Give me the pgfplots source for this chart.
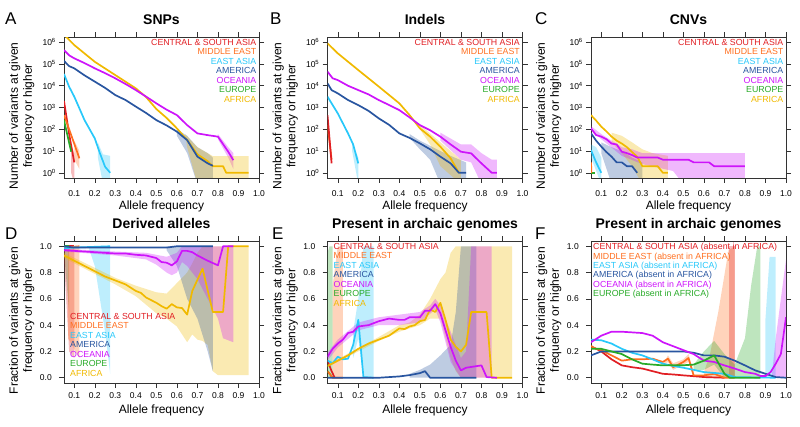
\documentclass[border=0pt]{standalone}
\usepackage{pgfplots}
\pgfplotsset{compat=1.18}
\usepackage{fontspec}
\setmainfont{Liberation Sans}

\definecolor{csa}{RGB}{225,30,35}
\definecolor{me}{RGB}{255,110,30}
\definecolor{ea}{RGB}{40,200,250}
\definecolor{am}{RGB}{40,85,160}
\definecolor{oc}{RGB}{205,20,250}
\definecolor{eu}{RGB}{40,170,40}
\definecolor{af}{RGB}{240,185,0}

\tikzset{legtext/.style={inner sep=0pt, font=\fontsize{8.8}{9.45}\selectfont}}

\pgfplotsset{
  panel/.style={
    scale only axis, width=195pt, height=141pt,
    xmin=0.05, xmax=1.0,
    xtick={0.1,0.2,0.3,0.4,0.5,0.6,0.7,0.8,0.9,1.0},
    xticklabels={0.1,0.2,0.3,0.4,0.5,0.6,0.7,0.8,0.9,1.0},
    tick align=outside, major tick length=5pt,
    tick label style={font=\fontsize{8.5}{10}\selectfont},
    tick style={black!80, line width=0.5pt},
    axis line style={black!80, line width=0.6pt},
    xlabel={Allele frequency},
    xlabel style={anchor=base, font=\fontsize{12}{14}\selectfont},
    ylabel style={at={(axis description cs:-0.216,0.44)}, anchor=center, align=center, font=\fontsize{12}{14}\selectfont},
    title style={at={(axis description cs:0.5,1.045)}, anchor=base, font=\fontsize{14}{16}\selectfont\bfseries},
  },
  logpanel/.style={panel, height=141pt,
    ymin=0.575, ymax=1.74e6,
    ytick={1,10,100,1000,10000,100000,1000000},
    yticklabels={10\textsuperscript{0},10\textsuperscript{1},10\textsuperscript{2},10\textsuperscript{3},10\textsuperscript{4},10\textsuperscript{5},10\textsuperscript{6}},
    yminorticks=false,
    yticklabel style={anchor=east, inner sep=0pt, xshift=-3pt},
    xticklabel style={anchor=base, yshift=-14pt},
    xlabel style={at={(axis description cs:0.5,-0.22)}},
    ylabel={Number of variants at given\\frequency or higher},
  },
  fracpanel/.style={panel, height=142pt,
    ymin=-0.04, ymax=1.04,
    ytick={0,0.2,0.4,0.6,0.8,1.0},
    yticklabels={0.0,0.2,0.4,0.6,0.8,1.0},
    yticklabel style={anchor=east, inner sep=0pt, xshift=-7pt},
    xticklabel style={anchor=base, yshift=-10pt},
    xlabel style={at={(axis description cs:0.5,-0.218)}},
    ylabel={Fraction of variants at given\\frequency or higher},
  },
  band/.style={draw=none, fill opacity=0.3},
  ln/.style={line width=1.7pt, mark=none, line join=round},
}

\begin{document}
\begin{tikzpicture}

% ---------------- A: SNPs
\begin{axis}[ymode=log, logpanel, at={(64pt,248pt)}, anchor=south west, title={SNPs}]
\addplot[band, fill=ea] coordinates {(0.215,25) (0.24,7) (0.275,6) (0.275,0.3) (0.24,0.3) (0.215,5)} -- cycle;
\addplot[band, fill=csa] coordinates {(0.085,20) (0.1,8) (0.1,0.3) (0.085,1)} -- cycle;
\addplot[band, fill=me] coordinates {(0.1,30) (0.125,10) (0.125,1.5) (0.1,4)} -- cycle;
\addplot[band, fill=am] coordinates {(0.6,100) (0.65,50) (0.7,15) (0.75,8) (0.775,5) (0.775,0.3) (0.7,0.3) (0.65,8) (0.6,50)} -- cycle;
\addplot[band, fill=oc] coordinates {(0.8,60) (0.85,15) (0.875,8) (0.875,1.5) (0.85,5) (0.8,35)} -- cycle;
\addplot[band, fill=af] coordinates {(0.64,60) (0.7,15) (0.75,8) (0.775,5.8) (0.95,5.8) (0.95,0.3) (0.7,0.3) (0.65,15)} -- cycle;
\addplot[ln, af] coordinates {(0.05,2240000) (0.1,741000) (0.2,126000) (0.3,30900) (0.4,7590) (0.45,3000) (0.5,850) (0.55,330) (0.6,110) (0.65,32) (0.7,7) (0.75,3.4) (0.775,2) (0.825,2) (0.84,1) (0.95,1)};
\addplot[ln, oc] coordinates {(0.05,436000) (0.075,250000) (0.1,182000) (0.15,110000) (0.2,63100) (0.25,38000) (0.3,21900) (0.35,12000) (0.4,6310) (0.45,3160) (0.5,1550) (0.55,794) (0.6,447) (0.65,155) (0.7,64.6) (0.75,53.7) (0.8,45.7) (0.85,9.3) (0.875,3.8)};
\addplot[ln, am] coordinates {(0.05,138000) (0.075,80000) (0.1,63100) (0.15,30000) (0.2,15500) (0.25,8000) (0.3,3720) (0.35,2200) (0.4,1100) (0.45,560) (0.5,263) (0.55,150) (0.6,77.6) (0.65,31.6) (0.7,5.5) (0.75,2.7) (0.775,2.1)};
\addplot[ln, ea] coordinates {(0.05,34700) (0.075,9000) (0.1,3160) (0.15,263) (0.2,38) (0.225,7.9) (0.25,1.9) (0.275,1)};
\addplot[ln, csa] coordinates {(0.05,2000) (0.075,60) (0.1,3)};
\addplot[ln, me] coordinates {(0.05,450) (0.09,40) (0.125,4.6)};
\addplot[ln, eu] coordinates {(0.05,260) (0.085,9.3)};
\node[legtext, anchor=north east, align=right, xshift=-2.5pt, yshift=-2pt] at (rel axis cs:1,1)
  {\color{csa}CENTRAL \& SOUTH ASIA\\\color{me}MIDDLE EAST\\\color{ea}EAST ASIA\\\color{am}AMERICA\\\color{oc}OCEANIA\\\color{eu}EUROPE\\\color{af}AFRICA};
\end{axis}

% ---------------- B: Indels
\begin{axis}[ymode=log, logpanel, at={(327.5pt,248pt)}, anchor=south west, title={Indels}]
\addplot[band, fill=ea] coordinates {(0.17,25) (0.2,5) (0.2,0.3) (0.17,10)} -- cycle;
\addplot[band, fill=am] coordinates {(0.45,60) (0.5,30) (0.6,10) (0.65,6) (0.725,3) (0.725,0.3) (0.6,0.3) (0.55,4) (0.5,12) (0.45,40)} -- cycle;
\addplot[band, fill=af] coordinates {(0.5,160) (0.6,25) (0.65,10) (0.7,4) (0.7,0.3) (0.6,2) (0.55,20) (0.5,100)} -- cycle;
\addplot[band, fill=oc] coordinates {(0.6,70) (0.7,20) (0.75,20) (0.8,8) (0.85,4) (0.875,4) (0.875,0.3) (0.8,0.3) (0.75,3) (0.7,4) (0.6,30)} -- cycle;
\addplot[ln, af] coordinates {(0.05,891000) (0.1,309000) (0.2,52500) (0.3,9120) (0.4,1550) (0.45,447) (0.5,110) (0.55,45.7) (0.6,15.8) (0.65,4.6) (0.69,1)};
\addplot[ln, oc] coordinates {(0.05,44700) (0.075,22000) (0.1,18200) (0.15,10000) (0.2,6310) (0.25,4000) (0.3,2190) (0.35,1300) (0.4,759) (0.45,350) (0.5,155) (0.55,90) (0.6,45.7) (0.65,20) (0.7,9.3) (0.75,7.8) (0.8,2.7) (0.85,1) (0.875,1)};
\addplot[ln, am] coordinates {(0.05,12900) (0.07,6300) (0.1,4470) (0.15,2200) (0.2,1290) (0.25,700) (0.3,316) (0.35,160) (0.4,64.6) (0.45,40) (0.5,22.4) (0.55,12) (0.6,5.5) (0.65,2.7) (0.69,1) (0.725,1)};
\addplot[ln, ea] coordinates {(0.05,3160) (0.1,537) (0.15,64.6) (0.175,20) (0.2,2.7)};
\addplot[ln, me] coordinates {(0.05,160) (0.07,4)};
\addplot[ln, csa] coordinates {(0.05,447) (0.07,2.7)};
\node[legtext, anchor=north east, align=right, xshift=-2.5pt, yshift=-2pt] at (rel axis cs:1,1)
  {\color{csa}CENTRAL \& SOUTH ASIA\\\color{me}MIDDLE EAST\\\color{ea}EAST ASIA\\\color{am}AMERICA\\\color{oc}OCEANIA\\\color{eu}EUROPE\\\color{af}AFRICA};
\end{axis}

% ---------------- C: CNVs
\begin{axis}[ymode=log, logpanel, at={(591pt,248pt)}, anchor=south west, title={CNVs}]
\addplot[band, fill=ea] coordinates {(0.05,20) (0.075,15) (0.1,5) (0.1,0.3) (0.05,5)} -- cycle;
\addplot[band, fill=am] coordinates {(0.1,25) (0.15,15) (0.2,10) (0.25,5) (0.3,3) (0.3,0.3) (0.15,0.3) (0.1,8)} -- cycle;
\addplot[band, fill=af] coordinates {(0.15,70) (0.2,50) (0.25,25) (0.3,12) (0.35,8) (0.425,6) (0.425,0.3) (0.3,0.3) (0.25,2) (0.2,8) (0.15,25)} -- cycle;
\addplot[band, fill=oc] coordinates {(0.05,140) (0.1,60) (0.2,15) (0.25,12) (0.3,8) (0.8,8) (0.8,0.3) (0.5,0.3) (0.45,1.2) (0.3,2.5) (0.2,6) (0.1,35) (0.05,90)} -- cycle;
\addplot[ln, af] coordinates {(0.05,447) (0.075,250) (0.1,132) (0.125,80) (0.15,46) (0.175,30) (0.2,22) (0.225,15) (0.25,9) (0.275,5.5) (0.3,2) (0.375,2) (0.4,1) (0.425,1)};
\addplot[ln, oc] coordinates {(0.05,110) (0.075,54) (0.1,46) (0.125,35) (0.15,22) (0.175,20) (0.2,9.3) (0.225,8) (0.25,6.5) (0.275,5) (0.375,5) (0.4,4) (0.525,4) (0.55,3) (0.625,3) (0.65,2) (0.8,2)};
\addplot[ln, am] coordinates {(0.05,65) (0.075,30) (0.1,16) (0.125,9) (0.15,5.5) (0.175,3) (0.2,3) (0.225,2) (0.25,2) (0.275,1)};
\addplot[ln, ea] coordinates {(0.05,11) (0.075,3) (0.1,1)};
\addplot[ln, eu] coordinates {(0.05,1) (0.07,1)};
\addplot[ln, me] coordinates {(0.05,3) (0.052,1)};
\node[legtext, anchor=north east, align=right, xshift=-2.5pt, yshift=-2pt] at (rel axis cs:1,1)
  {\color{csa}CENTRAL \& SOUTH ASIA\\\color{me}MIDDLE EAST\\\color{ea}EAST ASIA\\\color{am}AMERICA\\\color{oc}OCEANIA\\\color{eu}EUROPE\\\color{af}AFRICA};
\end{axis}

% ---------------- D: Derived alleles
\begin{axis}[fracpanel, at={(64pt,43pt)}, anchor=south west, title={Derived alleles}]
\addplot[band, fill=eu] coordinates {(0.05,1.0) (0.075,1.0) (0.075,0.5) (0.05,0.95)} -- cycle;
\addplot[band, fill=csa] coordinates {(0.05,1.0) (0.1,1.0) (0.1,0.15) (0.075,0.2) (0.05,0.9)} -- cycle;
\addplot[band, fill=me] coordinates {(0.07,1.0) (0.125,1.0) (0.125,0.15) (0.07,0.3)} -- cycle;
\addplot[band, fill=ea] coordinates {(0.17,1.0) (0.275,1.0) (0.275,0.03) (0.25,0.35) (0.2,0.85) (0.17,0.99)} -- cycle;
\addplot[band, fill=af] coordinates {(0.05,0.95) (0.3,0.76) (0.4,0.7) (0.5,0.65) (0.55,0.64) (0.6,0.72) (0.65,0.8) (0.675,0.87) (0.7,0.95) (0.725,1.0) (0.95,1.0) (0.95,0.02) (0.8,0.02) (0.775,0.05) (0.75,0.25) (0.725,0.28) (0.7,0.29) (0.675,0.33) (0.65,0.27) (0.6,0.39) (0.55,0.45) (0.5,0.49) (0.4,0.62) (0.3,0.71) (0.05,0.91)} -- cycle;
\addplot[band, fill=am] coordinates {(0.55,1.0) (0.775,1.0) (0.775,0.05) (0.75,0.2) (0.7,0.45) (0.65,0.6) (0.6,0.85) (0.55,0.97)} -- cycle;
\addplot[band, fill=oc] coordinates {(0.05,0.98) (0.3,0.96) (0.45,0.95) (0.55,0.92) (0.6,0.95) (0.625,1.0) (0.875,1.0) (0.875,0.27) (0.825,0.3) (0.8,0.45) (0.75,0.6) (0.7,0.75) (0.65,0.85) (0.625,0.88) (0.6,0.8) (0.575,0.78) (0.55,0.8) (0.5,0.86) (0.45,0.9) (0.3,0.93) (0.05,0.96)} -- cycle;
\addplot[ln, csa] coordinates {(0.05,1.0) (0.1,1.0)};
\addplot[ln, me] coordinates {(0.05,0.99) (0.125,1.0)};
\addplot[ln, eu] coordinates {(0.05,1.0) (0.075,1.0)};
\addplot[ln, ea] coordinates {(0.05,0.985) (0.1,0.99) (0.275,1.0)};
\addplot[ln, af] coordinates {(0.05,0.93) (0.1,0.89) (0.15,0.85) (0.2,0.81) (0.25,0.77) (0.3,0.74) (0.35,0.71) (0.4,0.66) (0.425,0.645) (0.45,0.61) (0.5,0.57) (0.525,0.545) (0.55,0.525) (0.575,0.56) (0.6,0.535) (0.625,0.53) (0.65,0.48) (0.675,0.66) (0.725,0.83) (0.775,0.5) (0.825,0.5) (0.85,1.0) (0.95,1.0)};
\addplot[ln, oc] coordinates {(0.05,0.97) (0.1,0.965) (0.2,0.955) (0.3,0.945) (0.35,0.945) (0.4,0.935) (0.45,0.93) (0.5,0.91) (0.525,0.88) (0.55,0.875) (0.575,0.855) (0.6,0.885) (0.625,0.965) (0.65,0.965) (0.675,0.955) (0.7,0.93) (0.75,0.89) (0.8,0.855) (0.825,1.0) (0.875,1.0)};
\addplot[ln, am] coordinates {(0.05,1.0) (0.1,0.99) (0.3,0.99) (0.55,0.99) (0.6,1.0) (0.775,1.0)};
\node[legtext, anchor=north west, align=left, xshift=6pt, yshift=-72pt] at (rel axis cs:0,1)
  {\color{csa}CENTRAL \& SOUTH ASIA\\\color{me}MIDDLE EAST\\\color{ea}EAST ASIA\\\color{am}AMERICA\\\color{oc}OCEANIA\\\color{eu}EUROPE\\\color{af}AFRICA};
\end{axis}

% ---------------- E: Present in archaic genomes
\begin{axis}[fracpanel, at={(327.5pt,43pt)}, anchor=south west, title={Present in archaic genomes}]
\addplot[band, fill=eu] coordinates {(0.05,0.0) (0.05,0.95) (0.06,1.0) (0.075,1.0) (0.075,0.0)} -- cycle;
\addplot[band, fill=me] coordinates {(0.075,0.0) (0.075,0.7) (0.1,1.0) (0.125,1.0) (0.125,0.0)} -- cycle;
\addplot[band, fill=ea] coordinates {(0.175,0.35) (0.2,0.6) (0.225,1.0) (0.275,1.0) (0.275,0.0) (0.225,0.0) (0.2,0.3) (0.175,0.15)} -- cycle;
\addplot[band, fill=af] coordinates {(0.05,0.1) (0.3,0.31) (0.4,0.4) (0.45,0.42) (0.5,0.48) (0.55,0.6) (0.6,0.75) (0.625,0.8) (0.65,0.95) (0.675,1.0) (0.95,1.0) (0.95,0.0) (0.7,0.0) (0.675,0.05) (0.65,0.15) (0.625,0.3) (0.6,0.45) (0.55,0.45) (0.5,0.4) (0.4,0.35) (0.3,0.28) (0.05,0.08)} -- cycle;
\addplot[band, fill=am] coordinates {(0.45,0.03) (0.5,0.06) (0.55,0.1) (0.6,0.17) (0.65,0.25) (0.675,0.5) (0.7,1.0) (0.775,1.0) (0.775,0.0) (0.45,0.0)} -- cycle;
\addplot[band, fill=oc] coordinates {(0.05,0.19) (0.1,0.29) (0.2,0.42) (0.3,0.46) (0.4,0.48) (0.5,0.5) (0.55,0.55) (0.575,0.6) (0.6,0.55) (0.65,0.35) (0.7,0.15) (0.725,0.2) (0.75,1.0) (0.85,1.0) (0.85,0.0) (0.7,0.0) (0.65,0.12) (0.6,0.42) (0.575,0.52) (0.5,0.42) (0.4,0.4) (0.3,0.4) (0.2,0.36) (0.1,0.23) (0.05,0.13)} -- cycle;
\addplot[ln, eu] coordinates {(0.05,0.05) (0.075,0.0)};
\addplot[ln, me] coordinates {(0.05,0.05) (0.075,0.0) (0.125,0.0)};
\addplot[ln, csa] coordinates {(0.05,0.13) (0.06,0.09) (0.07,0.05) (0.085,0.0)};
\addplot[ln, ea] coordinates {(0.05,0.13) (0.075,0.11) (0.1,0.16) (0.125,0.14) (0.15,0.145) (0.175,0.25) (0.2,0.44) (0.225,0.005) (0.275,0.0)};
\addplot[ln, af] coordinates {(0.05,0.09) (0.1,0.13) (0.15,0.17) (0.2,0.22) (0.25,0.26) (0.3,0.29) (0.35,0.32) (0.4,0.375) (0.425,0.37) (0.45,0.39) (0.475,0.4) (0.5,0.43) (0.525,0.44) (0.55,0.52) (0.575,0.5) (0.6,0.57) (0.625,0.44) (0.65,0.29) (0.675,0.235) (0.7,0.2) (0.725,0.25) (0.75,0.5) (0.825,0.5) (0.85,0.0) (0.95,0.0)};
\addplot[ln, oc] coordinates {(0.05,0.16) (0.075,0.22) (0.1,0.26) (0.125,0.29) (0.15,0.34) (0.175,0.35) (0.2,0.39) (0.25,0.4) (0.3,0.43) (0.35,0.45) (0.4,0.44) (0.425,0.44) (0.45,0.46) (0.5,0.46) (0.525,0.51) (0.55,0.51) (0.575,0.56) (0.6,0.49) (0.625,0.36) (0.65,0.235) (0.675,0.13) (0.7,0.056) (0.725,0.076) (0.8,0.094) (0.825,0.005) (0.875,0.0)};
\addplot[ln, am] coordinates {(0.05,0.0) (0.3,0.0) (0.4,0.01) (0.45,0.02) (0.5,0.035) (0.525,0.05) (0.55,0.0) (0.775,0.0)};
\node[legtext, anchor=north west, align=left, xshift=6pt, yshift=-2pt] at (rel axis cs:0,1)
  {\color{csa}CENTRAL \& SOUTH ASIA\\\color{me}MIDDLE EAST\\\color{ea}EAST ASIA\\\color{am}AMERICA\\\color{oc}OCEANIA\\\color{eu}EUROPE\\\color{af}AFRICA};
\end{axis}

% ---------------- F: Present in archaic genomes (absent in Africa)
\begin{axis}[fracpanel, at={(591pt,43pt)}, anchor=south west, title={Present in archaic genomes}]
\addplot[band, fill=me] coordinates {(0.6,0.0) (0.6,0.04) (0.63,0.18) (0.67,0.5) (0.72,0.97) (0.75,1.0) (0.75,0.0)} -- cycle;
\addplot[band, fill=csa] coordinates {(0.72,0.0) (0.72,1.0) (0.75,1.0) (0.75,0.0)} -- cycle;
\addplot[band, fill=eu] coordinates {(0.55,0.05) (0.55,0.1) (0.6,0.2) (0.65,0.28) (0.7,0.18) (0.75,0.1) (0.8,0.3) (0.83,0.7) (0.86,1.0) (0.875,1.0) (0.875,0.0) (0.7,0.0) (0.65,0.1) (0.6,0.06)} -- cycle;
\addplot[band, fill=ea] coordinates {(0.9,0.0) (0.9,0.45) (0.92,0.92) (0.95,0.92) (0.95,0.0)} -- cycle;
\addplot[band, fill=oc] coordinates {(0.93,0.0) (0.95,0.3) (0.975,0.6) (1.0,0.9) (1.0,0.0)} -- cycle;
\addplot[band, fill=me] coordinates {(0.4,0.1) (0.425,0.17) (0.45,0.11) (0.5,0.14) (0.525,0.18) (0.55,0.04) (0.55,0.0) (0.525,0.12) (0.5,0.1) (0.45,0.06) (0.425,0.12) (0.4,0.09)} -- cycle;
\addplot[ln, csa] coordinates {(0.05,0.24) (0.1,0.2) (0.15,0.14) (0.2,0.094) (0.25,0.08) (0.3,0.07) (0.35,0.05) (0.4,0.03) (0.45,0.025) (0.5,0.018) (0.55,0.012) (0.6,0.005) (0.7,0.0)};
\addplot[ln, me] coordinates {(0.05,0.24) (0.075,0.22) (0.1,0.21) (0.15,0.17) (0.2,0.13) (0.25,0.14) (0.3,0.14) (0.35,0.145) (0.4,0.12) (0.425,0.145) (0.45,0.08) (0.5,0.12) (0.525,0.15) (0.55,0.018) (0.6,0.018) (0.65,0.03) (0.7,0.0) (0.75,0.0)};
\addplot[ln, ea] coordinates {(0.05,0.29) (0.1,0.285) (0.15,0.26) (0.2,0.22) (0.25,0.19) (0.3,0.17) (0.35,0.14) (0.4,0.107) (0.45,0.09) (0.5,0.076) (0.55,0.06) (0.6,0.043) (0.7,0.03) (0.75,0.005) (0.95,0.0)};
\addplot[ln, am] coordinates {(0.05,0.17) (0.1,0.2) (0.2,0.2) (0.3,0.2) (0.4,0.2) (0.5,0.2) (0.55,0.19) (0.6,0.17) (0.65,0.17) (0.7,0.16) (0.75,0.13) (0.8,0.094) (0.85,0.056) (0.9,0.03) (0.95,0.005) (1.0,0.0)};
\addplot[ln, oc] coordinates {(0.05,0.27) (0.1,0.32) (0.15,0.35) (0.2,0.35) (0.25,0.345) (0.3,0.34) (0.35,0.32) (0.4,0.27) (0.45,0.24) (0.5,0.21) (0.55,0.18) (0.6,0.13) (0.65,0.12) (0.7,0.094) (0.75,0.07) (0.8,0.043) (0.85,0.03) (0.875,0.013) (0.9,0.013) (0.925,0.043) (0.95,0.107) (0.975,0.18) (1.0,0.46)};
\addplot[ln, eu] coordinates {(0.05,0.22) (0.1,0.22) (0.15,0.2) (0.2,0.18) (0.25,0.14) (0.3,0.107) (0.35,0.1) (0.4,0.094) (0.5,0.095) (0.55,0.1) (0.6,0.13) (0.65,0.17) (0.7,0.03) (0.725,0.0) (0.875,0.0)};
\node[legtext, anchor=north west, align=left, xshift=2pt, yshift=-2pt] at (rel axis cs:0,1)
  {\color{csa}CENTRAL \& SOUTH ASIA (absent in AFRICA)\\\color{me}MIDDLE EAST (absent in AFRICA)\\\color{ea}EAST ASIA (absent in AFRICA)\\\color{am}AMERICA (absent in AFRICA)\\\color{oc}OCEANIA (absent in AFRICA)\\\color{eu}EUROPE (absent in AFRICA)};
\end{axis}

% panel letters
\node[anchor=base west, inner sep=0pt, font=\fontsize{17}{20}\selectfont] at (5pt,401pt) {A};
\node[anchor=base west, inner sep=0pt, font=\fontsize{17}{20}\selectfont] at (270pt,401pt) {B};
\node[anchor=base west, inner sep=0pt, font=\fontsize{17}{20}\selectfont] at (535pt,401pt) {C};
\node[anchor=base west, inner sep=0pt, font=\fontsize{17}{20}\selectfont] at (5pt,186pt) {D};
\node[anchor=base west, inner sep=0pt, font=\fontsize{17}{20}\selectfont] at (272pt,186pt) {E};
\node[anchor=base west, inner sep=0pt, font=\fontsize{17}{20}\selectfont] at (535pt,186pt) {F};

\pgfresetboundingbox
\useasboundingbox (0,0) rectangle (800pt,426pt);
\end{tikzpicture}
\end{document}
